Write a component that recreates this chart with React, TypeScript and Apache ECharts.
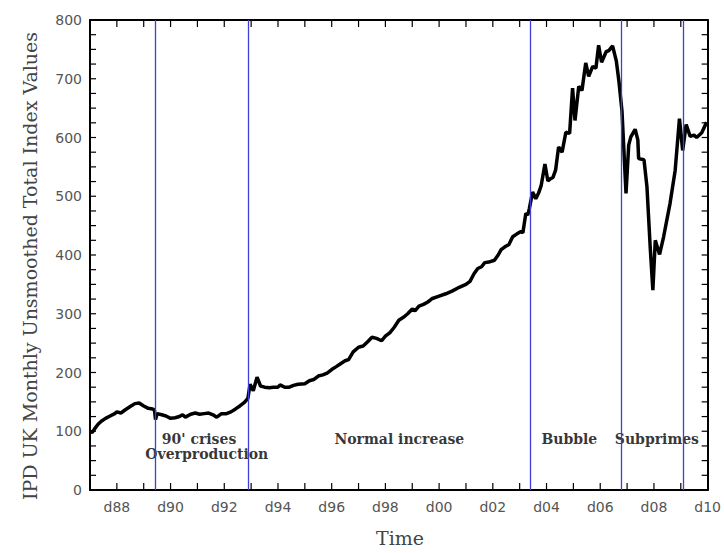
import React, { useEffect, useRef } from "react";
import * as echarts from "echarts";

// Monthly sample dates (decimal years) and IPD UK total index readings
const periods = [
  1987.0, 1987.08, 1987.17, 1987.3, 1987.42, 1987.58, 1987.75, 1987.92,
  1988.0, 1988.15, 1988.33, 1988.5, 1988.67, 1988.83,
  1989.0, 1989.17, 1989.33, 1989.4, 1989.44, 1989.5, 1989.67, 1989.83,
  1990.0, 1990.17, 1990.33, 1990.45, 1990.55, 1990.75, 1990.92,
  1991.08, 1991.25, 1991.42, 1991.58, 1991.72, 1991.9,
  1992.08, 1992.25, 1992.42, 1992.58, 1992.75, 1992.88, 1992.96,
  1993.08, 1993.22, 1993.35, 1993.5, 1993.67, 1993.83,
  1994.0, 1994.08, 1994.25, 1994.42, 1994.58, 1994.75,
  1995.0, 1995.17, 1995.33, 1995.5, 1995.67, 1995.83,
  1996.0, 1996.17, 1996.33, 1996.5, 1996.63, 1996.8,
  1997.0, 1997.17, 1997.33, 1997.5, 1997.67, 1997.86,
  1998.0, 1998.17, 1998.33, 1998.5, 1998.67, 1998.83,
  1999.0, 1999.1, 1999.25, 1999.42, 1999.58, 1999.75,
  2000.0, 2000.25, 2000.5, 2000.75,
  2001.0, 2001.15, 2001.3, 2001.44, 2001.58, 2001.7, 2001.85,
  2002.06, 2002.2, 2002.31, 2002.45, 2002.6, 2002.74, 2002.9,
  2003.05, 2003.12, 2003.23, 2003.3, 2003.36, 2003.48, 2003.6, 2003.7, 2003.8, 2003.94,
  2004.05, 2004.15, 2004.24, 2004.34, 2004.45, 2004.58, 2004.72, 2004.86, 2004.97,
  2005.06, 2005.2, 2005.32, 2005.46, 2005.57, 2005.72, 2005.84, 2005.94,
  2006.05, 2006.22, 2006.32, 2006.46, 2006.6, 2006.7, 2006.81, 2006.96,
  2007.06, 2007.14, 2007.3, 2007.4, 2007.43, 2007.63, 2007.74, 2007.86, 2007.96,
  2008.05, 2008.21, 2008.36, 2008.6, 2008.79, 2008.95,
  2009.07, 2009.2, 2009.35, 2009.49, 2009.59, 2009.78, 2009.96,
];

const indexValues = [
  100, 98, 104, 112, 117, 122, 126, 130,
  133, 131, 137, 142, 147, 148,
  143, 139, 138, 136, 120, 130, 128, 126,
  122, 123, 125, 128, 124, 129, 131,
  129, 130, 131, 128, 124, 130,
  130, 133, 138, 143, 149, 156, 180,
  169, 192, 177, 175, 174, 175,
  175, 179, 175, 175, 178, 180,
  181, 186, 188, 194, 196, 199,
  205, 210, 215, 220, 222, 235,
  243, 245, 252, 260, 258, 254,
  262, 268, 277, 289, 294, 300,
  308, 305, 313, 316, 320, 326,
  330, 334, 339, 345,
  350, 355, 368, 377, 380, 387, 388,
  391, 400, 409, 414, 418, 431, 436,
  440, 438, 471, 468, 479, 507, 496, 505, 518, 555,
  526, 530, 532, 545, 584, 575, 609, 607, 684,
  629, 687, 680, 727, 704, 721, 718, 757,
  728, 746, 748, 756, 730, 694, 645, 505,
  587, 601, 614, 596, 564, 562, 516, 414, 340,
  425, 401, 431, 488, 544, 632,
  578, 622, 602, 604, 600, 608, 626,
];

// Dates separating the market phases
const regimeBreaks = [1989.42, 1992.91, 2003.38, 2006.79, 2009.11];

// Phase captions and where they sit (year, index value)
const phaseLabels = ["90' crises", "Overproduction", "Normal increase", "Bubble", "Subprimes"];
const phaseAnchors = [
  [1991.06, 87],
  [1991.35, 61],
  [1998.52, 87],
  [2004.85, 87],
  [2008.11, 87],
];

// Tick positions of the framed box: every year, every 25 index points
const yearTicks = [
  1987, 1988, 1989, 1990, 1991, 1992, 1993, 1994, 1995, 1996, 1997, 1998,
  1999, 2000, 2001, 2002, 2003, 2004, 2005, 2006, 2007, 2008, 2009, 2010,
];
const valueTicks = [
  0, 25, 50, 75, 100, 125, 150, 175, 200, 225, 250, 275, 300, 325, 350, 375,
  400, 425, 450, 475, 500, 525, 550, 575, 600, 625, 650, 675, 700, 725, 750,
  775, 800,
];

const labelFont = { color: "#555", fontFamily: "DejaVu Sans", fontSize: 14 };

export default function App() {
  const ref = useRef<HTMLDivElement>(null);

  useEffect(() => {
    if (!ref.current) return;
    const chart = echarts.init(ref.current, undefined, { renderer: "svg" });

    const titles = [
      {
        type: "text",
        x: 30,
        y: 266,
        rotation: Math.PI / 2,
        silent: true,
        style: {
          text: "IPD UK Monthly Unsmoothed Total Index Values",
          fontFamily: "DejaVu Serif",
          fontSize: 19,
          fill: "#444",
          align: "center",
          verticalAlign: "middle",
        },
      },
      {
        type: "text",
        x: 400,
        y: 538,
        silent: true,
        style: {
          text: "Time",
          fontFamily: "DejaVu Serif",
          fontSize: 19,
          fill: "#444",
          align: "center",
          verticalAlign: "middle",
        },
      },
    ];

    const option = {
      animation: false,
      backgroundColor: "#fff",
      grid: { left: 90, right: 14, top: 20, bottom: 63 },
      xAxis: [
        {
          type: "value",
          min: 1987,
          max: 2010,
          interval: 1,
          axisLine: { show: true, lineStyle: { color: "#000", width: 2 } },
          axisTick: { show: false },
          splitLine: { show: false },
          axisLabel: {
            color: labelFont.color,
            fontFamily: labelFont.fontFamily,
            fontSize: labelFont.fontSize,
            margin: 10,
            formatter: (v: number) =>
              v % 2 === 0 ? "d" + String(v % 100).padStart(2, "0") : "",
          },
        },
        {
          type: "value",
          position: "top",
          min: 1987,
          max: 2010,
          interval: 1,
          axisLine: { show: true, onZero: false, lineStyle: { color: "#000", width: 2 } },
          axisTick: { show: false },
          splitLine: { show: false },
          axisLabel: { show: false },
        },
      ],
      yAxis: [
        {
          type: "value",
          min: 0,
          max: 800,
          interval: 25,
          axisLine: { show: true, lineStyle: { color: "#000", width: 2 } },
          axisTick: { show: false },
          splitLine: { show: false },
          axisLabel: {
            color: labelFont.color,
            fontFamily: labelFont.fontFamily,
            fontSize: labelFont.fontSize,
            margin: 8,
            formatter: (v: number) => (v % 100 === 0 ? String(v) : ""),
          },
        },
        {
          type: "value",
          position: "right",
          min: 0,
          max: 800,
          interval: 25,
          axisLine: { show: true, lineStyle: { color: "#000", width: 2 } },
          axisTick: { show: false },
          splitLine: { show: false },
          axisLabel: { show: false },
        },
      ],
      series: [
        {
          type: "line",
          data: periods.map((t, i) => [t, indexValues[i]]),
          symbol: "none",
          showSymbol: false,
          lineStyle: { color: "#000", width: 3.5 },
          markLine: {
            silent: true,
            symbol: "none",
            label: { show: false },
            lineStyle: { color: "#3f3fd8", width: 1.3, type: "solid", opacity: 1 },
            data: regimeBreaks.map((x) => ({ xAxis: x })),
          },
        },
        {
          type: "scatter",
          symbolSize: 0,
          silent: true,
          data: phaseAnchors.map((p, i) => ({ value: p, name: phaseLabels[i] })),
          label: {
            show: true,
            position: "inside",
            formatter: (p: any) => p.name,
            fontFamily: "DejaVu Serif",
            fontWeight: "bold",
            fontSize: 14,
            color: "#000",
          },
        },
      ],
      graphic: titles,
    };

    chart.setOption(option as any);

    // Inward ticks on all four sides of the box, placed through the axes' scales
    const finder = { xAxisIndex: 0, yAxisIndex: 0 };
    const toPx = (x: number, y: number) => chart.convertToPixel(finder, [x, y]) as number[];
    const [leftPx, bottomPx] = toPx(1987, 0);
    const [rightPx, topPx] = toPx(2010, 800);
    const tickStyle = { stroke: "#000", lineWidth: 1.2 };
    const ticks: any[] = [];
    yearTicks.forEach((yr) => {
      const px = toPx(yr, 0)[0];
      ticks.push({ type: "line", silent: true, shape: { x1: px, y1: bottomPx, x2: px, y2: bottomPx - 7 }, style: tickStyle });
      ticks.push({ type: "line", silent: true, shape: { x1: px, y1: topPx, x2: px, y2: topPx + 7 }, style: tickStyle });
    });
    valueTicks.forEach((val) => {
      const py = toPx(1987, val)[1];
      ticks.push({ type: "line", silent: true, shape: { x1: leftPx, y1: py, x2: leftPx + 6, y2: py }, style: tickStyle });
      ticks.push({ type: "line", silent: true, shape: { x1: rightPx, y1: py, x2: rightPx - 6, y2: py }, style: tickStyle });
    });
    chart.setOption({ graphic: [...titles, ...ticks] } as any);

    return () => chart.dispose();
  }, []);

  return (
    <div
      ref={ref}
      style={{ position: "fixed", left: 0, top: 0, width: 724, height: 553 }}
    />
  );
}
